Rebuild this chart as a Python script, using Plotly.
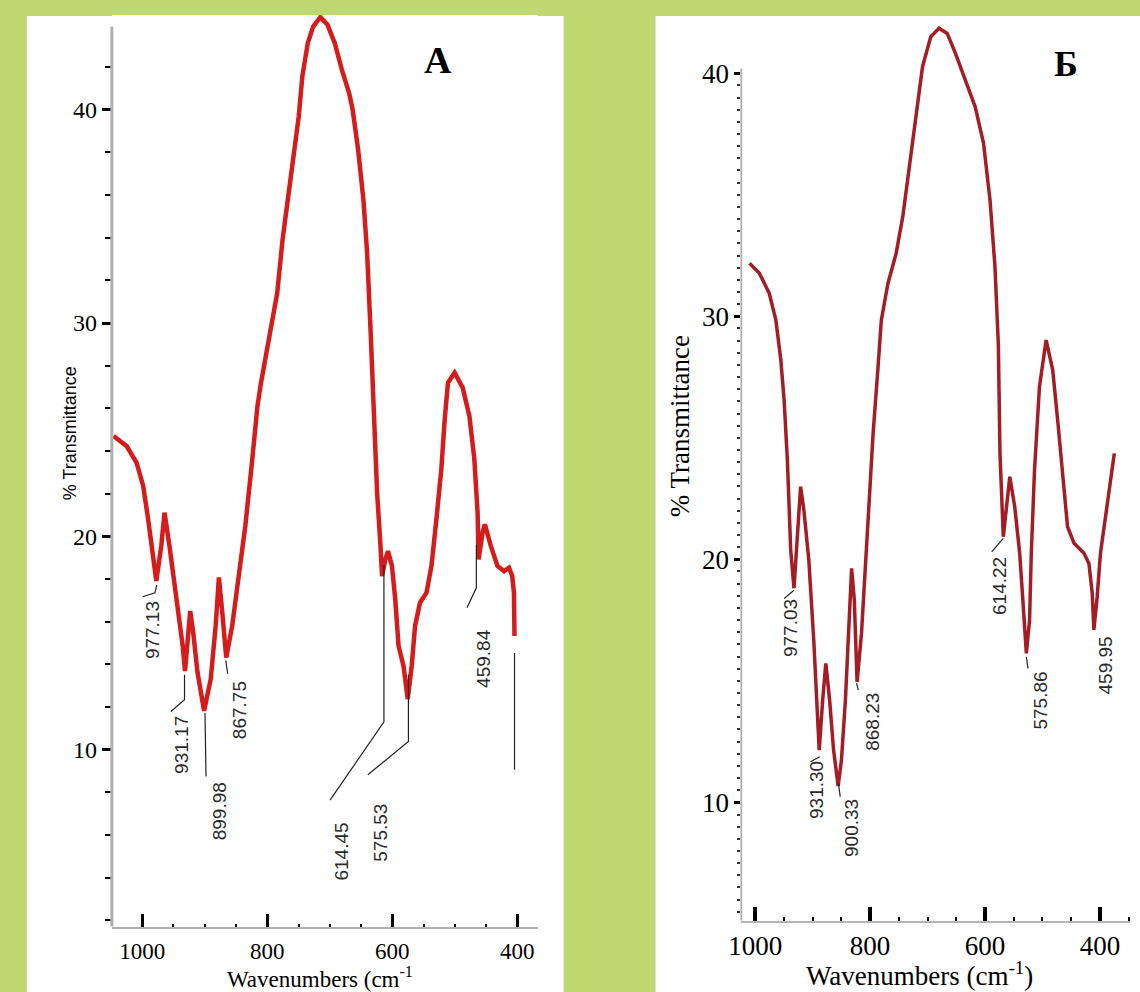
import plotly.graph_objects as go

# ---------------- data ----------------
wn_a = [1045.8, 1024.8, 1009.0, 998.4, 990.5, 982.6, 977.4, 969.5, 964.3, 956.4,
        945.8, 935.2, 931.5, 927.3, 923.2, 918.4, 911.5, 901.0, 890.4, 882.5,
        877.3, 871.9, 865.6, 856.1, 845.7, 835.1, 824.5, 815.7, 810.0, 801.3,
        792.7, 784.0, 775.5, 766.8, 758.3, 749.6, 743.9, 735.2, 726.6, 715.1,
        703.6, 692.0, 680.6, 669.1, 663.4, 654.7, 646.2, 640.3, 634.6, 628.8,
        624.3, 618.9, 616.4, 611.1, 606.9, 600.6, 595.3, 590.0, 582.1, 575.3,
        569.0, 563.6, 555.7, 545.3, 537.4, 529.5, 521.6, 516.2, 511.0, 500.4,
        487.3, 476.7, 468.8, 463.6, 462.0, 455.7, 452.0, 442.5, 431.9, 421.3,
        413.4, 408.2, 405.5, 404.6]
T_a = [24.70, 24.23, 23.45, 22.36, 20.80, 18.92, 17.91, 19.55, 21.11, 19.55,
       17.36, 14.86, 13.69, 15.49, 16.50, 15.49, 13.62, 11.82, 13.30, 15.80,
       18.07, 16.43, 14.32, 15.80, 17.99, 20.48, 23.45, 26.10, 27.20, 28.60,
       29.85, 31.41, 33.91, 35.78, 37.97, 39.69, 41.56, 43.12, 43.90, 44.34,
       43.98, 43.12, 41.87, 40.78, 40.00, 38.13, 35.78, 33.29, 29.54, 24.86,
       22.05, 19.55, 18.14, 18.92, 19.31, 18.61, 17.05, 14.86, 13.92, 12.37,
       13.92, 15.80, 16.89, 17.36, 18.61, 20.80, 23.14, 25.48, 27.20, 27.67,
       26.96, 25.63, 23.61, 21.11, 18.92, 20.17, 20.56, 19.55, 18.61, 18.37,
       18.53, 18.14, 17.36, 15.33]

wn_b = [1009.8, 992.6, 975.4, 963.9, 955.3, 949.6, 943.9, 941.0, 938.1, 932.4,
        927.2, 920.9, 915.2, 906.6, 898.0, 892.8, 888.5, 882.5, 877.0, 870.4,
        863.5, 855.5, 849.8, 842.9, 837.8, 834.8, 832.1, 827.4, 824.8, 822.6,
        814.9, 806.3, 800.4, 794.7, 786.1, 780.4, 768.9, 754.6, 743.1, 731.6,
        720.2, 708.7, 694.4, 680.0, 665.7, 651.4, 634.2, 617.0, 602.5, 591.2,
        582.6, 576.7, 573.9, 571.1, 568.1, 562.5, 556.8, 548.2, 539.6, 533.7,
        528.0, 522.4, 519.4, 513.8, 505.2, 493.6, 482.1, 473.5, 464.9, 456.3,
        444.9, 427.7, 419.1, 413.3, 410.5, 404.7, 399.0, 387.5, 378.9, 374.9]
T_b = [32.18, 31.77, 30.94, 29.84, 28.20, 26.55, 24.08, 22.03, 20.38, 18.81,
       20.79, 22.99, 22.03, 19.97, 16.68, 14.21, 12.15, 14.21, 15.72, 14.21,
       12.15, 10.67, 11.74, 14.21, 16.68, 17.91, 19.63, 18.32, 16.27, 14.95,
       16.95, 20.38, 22.44, 25.18, 27.92, 29.84, 31.35, 32.59, 34.10, 36.15,
       38.35, 40.27, 41.50, 41.85, 41.64, 40.82, 39.72, 38.62, 37.12, 34.78,
       32.04, 28.81, 24.36, 22.30, 20.93, 22.16, 23.40, 22.16, 20.25, 18.19,
       16.13, 17.50, 20.25, 23.67, 27.10, 29.02, 27.79, 25.73, 23.67, 21.34,
       20.66, 20.25, 19.83, 18.60, 17.09, 18.46, 20.25, 22.30, 23.67, 24.36]

x_ticks = [1000, 800, 600, 400]
y_ticks = [10, 20, 30, 40]

peak_text_a = ["977.13", "931.17", "899.98", "867.75", "614.45", "575.53", "459.84"]
peak_lab_x_a = [982.5, 936.4, 876.2, 843.3, 680.6, 620.2, 453.4]
peak_lab_y_a = [15.61, 10.22, 7.09, 11.86, 5.22, 6.09, 14.30]
leaders_a = [
    [(976.6, 17.71), (979.6, 17.35), (999.5, 17.17)],
    [(932.3, 13.51), (932.3, 12.34), (954.1, 11.79)],
    [(899.6, 11.73), (897.9, 8.74)],
    [(866.3, 14.18), (863.3, 13.56)],
    [(613.4, 18.66), (613.4, 11.30), (699.6, 7.63)],
    [(574.2, 13.51), (574.2, 10.38), (639.2, 8.82)],
    [(465.6, 19.62), (465.6, 17.59), (480.6, 16.65)],
    [(404.6, 14.53), (404.6, 9.06)],
]

peak_text_b = ["977.03", "931.30", "900.33", "868.23", "614.22", "575.86", "459.95"]
peak_lab_x_b = [938.1, 892.3, 832.1, 794.7, 575.7, 503.4, 390.4]
peak_lab_y_b = [17.16, 10.51, 8.93, 13.32, 18.90, 14.21, 15.65]
leaders_b = [
    [(932.4, 18.73), (949.6, 18.39)],
    [(887.6, 11.88), (903.6, 11.67)],
    [(855.0, 10.78), (852.0, 10.23)],
    [(823.5, 14.90), (820.5, 14.62)],
    [(568.1, 20.86), (588.3, 20.31)],
    [(528.0, 15.99), (525.1, 15.51)],
]

# ---------------- figure ----------------
W, H = 1140, 992
GREEN = "#bfd870"
SERIF = "Liberation Serif"
SANS = "Liberation Sans"


def px(x):
    return x / W


def py(y):
    return 1 - y / H


def flat(leaders):
    xs, ys = [], []
    for seg in leaders:
        for (a, b) in seg:
            xs.append(a)
            ys.append(b)
        xs.append(None)
        ys.append(None)
    return xs, ys


fig = go.Figure()

fig.add_trace(go.Scatter(x=wn_a, y=T_a, mode="lines", xaxis="x", yaxis="y",
                         line=dict(color="#d61b1b", width=4.5), showlegend=False,
                         hoverinfo="skip"))
la_x, la_y = flat(leaders_a)
fig.add_trace(go.Scatter(x=la_x, y=la_y, mode="lines", xaxis="x", yaxis="y",
                         line=dict(color="#222222", width=1.2), showlegend=False,
                         hoverinfo="skip"))

fig.add_trace(go.Scatter(x=wn_b, y=T_b, mode="lines", xaxis="x2", yaxis="y2",
                         line=dict(color="#a41d24", width=3.5), showlegend=False,
                         hoverinfo="skip"))
lb_x, lb_y = flat(leaders_b)
fig.add_trace(go.Scatter(x=lb_x, y=lb_y, mode="lines", xaxis="x2", yaxis="y2",
                         line=dict(color="#222222", width=1.2), showlegend=False,
                         hoverinfo="skip"))

annotations = []
for t, x, y in zip(peak_text_a, peak_lab_x_a, peak_lab_y_a):
    annotations.append(dict(text=t, x=x, y=y, xref="x", yref="y", showarrow=False,
                            textangle=-90, xanchor="center", yanchor="middle",
                            font=dict(family=SANS, size=19, color="#2a2a2a")))
for t, x, y in zip(peak_text_b, peak_lab_x_b, peak_lab_y_b):
    annotations.append(dict(text=t, x=x, y=y, xref="x2", yref="y2", showarrow=False,
                            textangle=-90, xanchor="center", yanchor="middle",
                            font=dict(family=SANS, size=19, color="#2a2a2a")))

# panel letters and axis titles
annotations += [
    dict(text="<b>A</b>", x=px(430), y=py(60), xref="paper", yref="paper",
         xanchor="center", yanchor="middle",
         showarrow=False, font=dict(family=SERIF, size=38, color="black")),
    dict(text="<b>Б</b>", x=px(1065), y=py(64), xref="paper", yref="paper",
         xanchor="center", yanchor="middle",
         showarrow=False, font=dict(family=SERIF, size=36, color="black")),
    dict(text="Wavenumbers (cm<sup>-1</sup>", x=px(311), y=py(977), xref="paper",
         yref="paper", showarrow=False, xanchor="center", yanchor="middle",
         font=dict(family=SERIF, size=23, color="black")),
    dict(text="Wavenumbers (cm<sup>-1</sup>)", x=px(917), y=py(974), xref="paper",
         yref="paper", showarrow=False, xanchor="center", yanchor="middle",
         font=dict(family=SERIF, size=27, color="black")),
    dict(text="% Transmittance", x=px(58), y=py(433), xref="paper", yref="paper",
         showarrow=False, textangle=-90, xanchor="center", yanchor="middle",
         font=dict(family=SANS, size=18, color="black")),
    dict(text="% Transmittance", x=px(675), y=py(426), xref="paper", yref="paper",
         showarrow=False, textangle=-90, xanchor="center", yanchor="middle",
         font=dict(family=SERIF, size=27, color="black")),
]

shapes = [
    dict(type="rect", xref="paper", yref="paper", x0=px(14), x1=px(557),
         y0=0, y1=py(16), fillcolor="white", line=dict(width=0), layer="below"),
    dict(type="rect", xref="paper", yref="paper", x0=px(650), x1=1.0,
         y0=0, y1=py(16), fillcolor="white", line=dict(width=0), layer="below"),
    dict(type="line", xref="x domain", yref="y", x0=0, x1=0, y0=1.70, y1=43.9,
         line=dict(color="#b0b0b0", width=3)),
    dict(type="line", xref="x2 domain", yref="y2", x0=0, x1=0, y0=5.13, y1=40.2,
         line=dict(color="#b5b5b5", width=2)),
]

minor_a_y = [v for v in range(2, 43, 2)]
minor_b_y = [5.5 + 0.5 * i for i in range(70)]

fig.update_layout(
    width=W, height=H,
    autosize=False,
    margin=dict(l=0, r=0, t=0, b=0),
    paper_bgcolor=GREEN,
    plot_bgcolor="white",
    showlegend=False,
    annotations=annotations,
    shapes=shapes,
    xaxis=dict(domain=[px(100), px(531)], range=[1048.5, 367.1], anchor="y",
               tickmode="array", tickvals=x_ticks, ticks="inside", ticklen=13,
               tickwidth=3, tickcolor="black", showgrid=False, zeroline=False,
               showline=True, linecolor="#b0b0b0", linewidth=2,
               ticklabelstandoff=3,
               tickfont=dict(family=SERIF, size=23, color="black"),
               minor=dict(dtick=50, tick0=0, ticks="inside", ticklen=3,
                          tickwidth=2, tickcolor="black", showgrid=False)),
    yaxis=dict(domain=[py(926.7), py(15)], range=[1.70, 44.44], anchor="x",
               tickmode="array", tickvals=y_ticks, ticks="outside", ticklen=9,
               tickwidth=3, tickcolor="black", showgrid=False, zeroline=False,
               showline=False,
               tickfont=dict(family=SERIF, size=24, color="black"),
               minor=dict(tickmode="array", tickvals=minor_a_y, ticks="outside",
                          ticklen=6, tickwidth=2, tickcolor="black",
                          showgrid=False)),
    xaxis2=dict(domain=[px(736.7), px(1130)], range=[1024.1, 347.4], anchor="y2",
                tickmode="array", tickvals=x_ticks, ticks="inside", ticklen=14,
                tickwidth=4, tickcolor="black", showgrid=False, zeroline=False,
                showline=True, linecolor="#b5b5b5", linewidth=2,
                ticklabelstandoff=0,
                tickfont=dict(family=SERIF, size=27, color="black"),
                minor=dict(dtick=50, tick0=0, ticks="inside", ticklen=4,
                           tickwidth=2, tickcolor="black", showgrid=False)),
    yaxis2=dict(domain=[py(920.7), py(22)], range=[5.13, 42.11], anchor="x2",
                tickmode="array", tickvals=y_ticks, ticks="outside", ticklen=6,
                tickwidth=3, tickcolor="black", showgrid=False, zeroline=False,
                showline=False,
                tickfont=dict(family=SERIF, size=27, color="black"),
                minor=dict(tickmode="array", tickvals=minor_b_y, ticks="outside",
                           ticklen=3, tickwidth=1.5, tickcolor="#333333",
                           showgrid=False)),
)

fig.write_html(
    "out.html",
    config={"responsive": False, "displayModeBar": False},
    post_script="document.body.style.margin='0';document.body.style.overflow='hidden';",
)
